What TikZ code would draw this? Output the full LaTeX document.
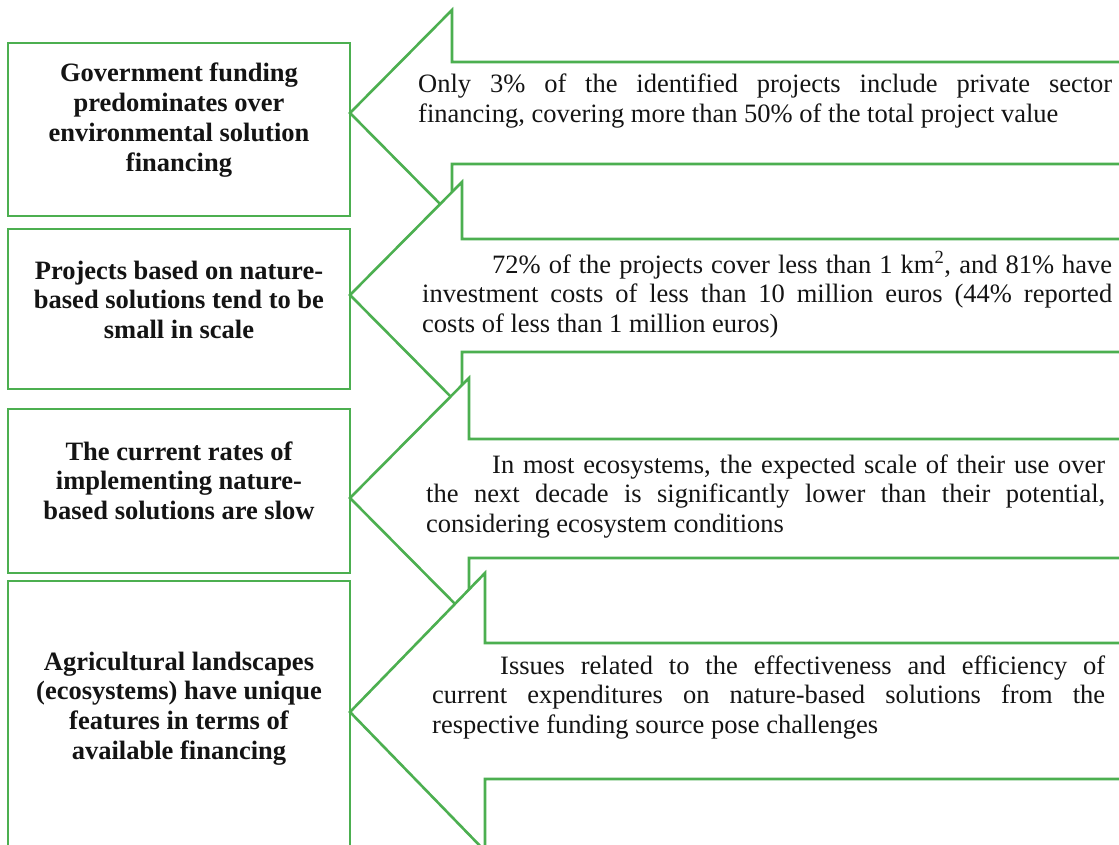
\documentclass[tikz,border=0pt]{standalone}
\usepackage{fontspec}
\setmainfont{Liberation Serif}
\definecolor{grn}{RGB}{76,175,80}
\definecolor{txt}{RGB}{20,20,20}
\newcommand\jline[2]{\makebox[#1][s]{#2}}
\begin{document}
\begin{tikzpicture}[x=1pt,y=-1pt,
  frame/.style={draw=grn,line width=2.6pt,fill=white,line join=miter},
  lefttxt/.style={anchor=base,inner sep=0pt,text=txt,font=\fontsize{26.5}{29.8}\selectfont\bfseries},
  righttxt/.style={anchor=base west,inner sep=0pt,text=txt,font=\fontsize{26.5}{29.5}\selectfont}]
\clip (0,0) rectangle (1119,845);
\fill[white] (0,0) rectangle (1119,845);
% left boxes
\draw[frame] (8,43) rectangle (350,216);
\draw[frame] (8,229) rectangle (350,389);
\draw[frame] (8,409) rectangle (350,573);
\draw[frame] (8,581) rectangle (350,870);
% arrows
\draw[frame] (350,113) -- (452,10) -- (452,62) -- (1130,62) -- (1130,164) -- (452,164) -- (452,216) -- cycle;
\draw[frame] (350,295) -- (462,182) -- (462,239) -- (1130,239) -- (1130,352) -- (462,352) -- (462,408) -- cycle;
\draw[frame] (350,498) -- (469,378) -- (469,439) -- (1130,439) -- (1130,558) -- (469,558) -- (469,618) -- cycle;
\draw[frame] (350,712) -- (485,573) -- (485,643) -- (1130,643) -- (1130,779) -- (485,779) -- (485,851) -- cycle;
% left texts
\node[lefttxt] (g1) at (179,82) {\parbox[t]{330pt}{\centering Government funding\\ predominates over\\ environmental solution\\ financing}};
\node[lefttxt] (g2) at (179,279) {\parbox[t]{330pt}{\centering Projects based on nature-\\ based solutions tend to be\\ small in scale}};
\node[lefttxt] (g3) at (179,460) {\parbox[t]{330pt}{\centering The current rates of\\ implementing nature-\\ based solutions are slow}};
\node[lefttxt] (g4) at (179,670) {\parbox[t]{330pt}{\centering Agricultural landscapes\\ (ecosystems) have unique\\ features in terms of\\ available financing}};
% right texts
\node[righttxt] (t1) at (418,93) {\parbox[t]{694pt}{\jline{694pt}{Only 3\% of the identified projects include private sector}\\ financing, covering more than 50\% of the total project value}};
\node[righttxt] (t2) at (422,273) {\parbox[t]{690pt}{\hspace*{70pt}\jline{620pt}{72\% of the projects cover less than 1 km\textsuperscript{2}, and 81\% have}\\ \jline{690pt}{investment costs of less than 10 million euros (44\% reported}\\ costs of less than 1 million euros)}};
\node[righttxt] (t3) at (426,473) {\parbox[t]{679pt}{\hspace*{66pt}\jline{613pt}{In most ecosystems, the expected scale of their use over}\\ \jline{679pt}{the next decade is significantly lower than their potential,}\\ considering ecosystem conditions}};
\node[righttxt] (t4) at (432,674) {\parbox[t]{673pt}{\hspace*{68pt}\jline{605pt}{Issues related to the effectiveness and efficiency of}\\ \jline{673pt}{current expenditures on nature-based solutions from the}\\ respective funding source pose challenges}};
\end{tikzpicture}
\end{document}
